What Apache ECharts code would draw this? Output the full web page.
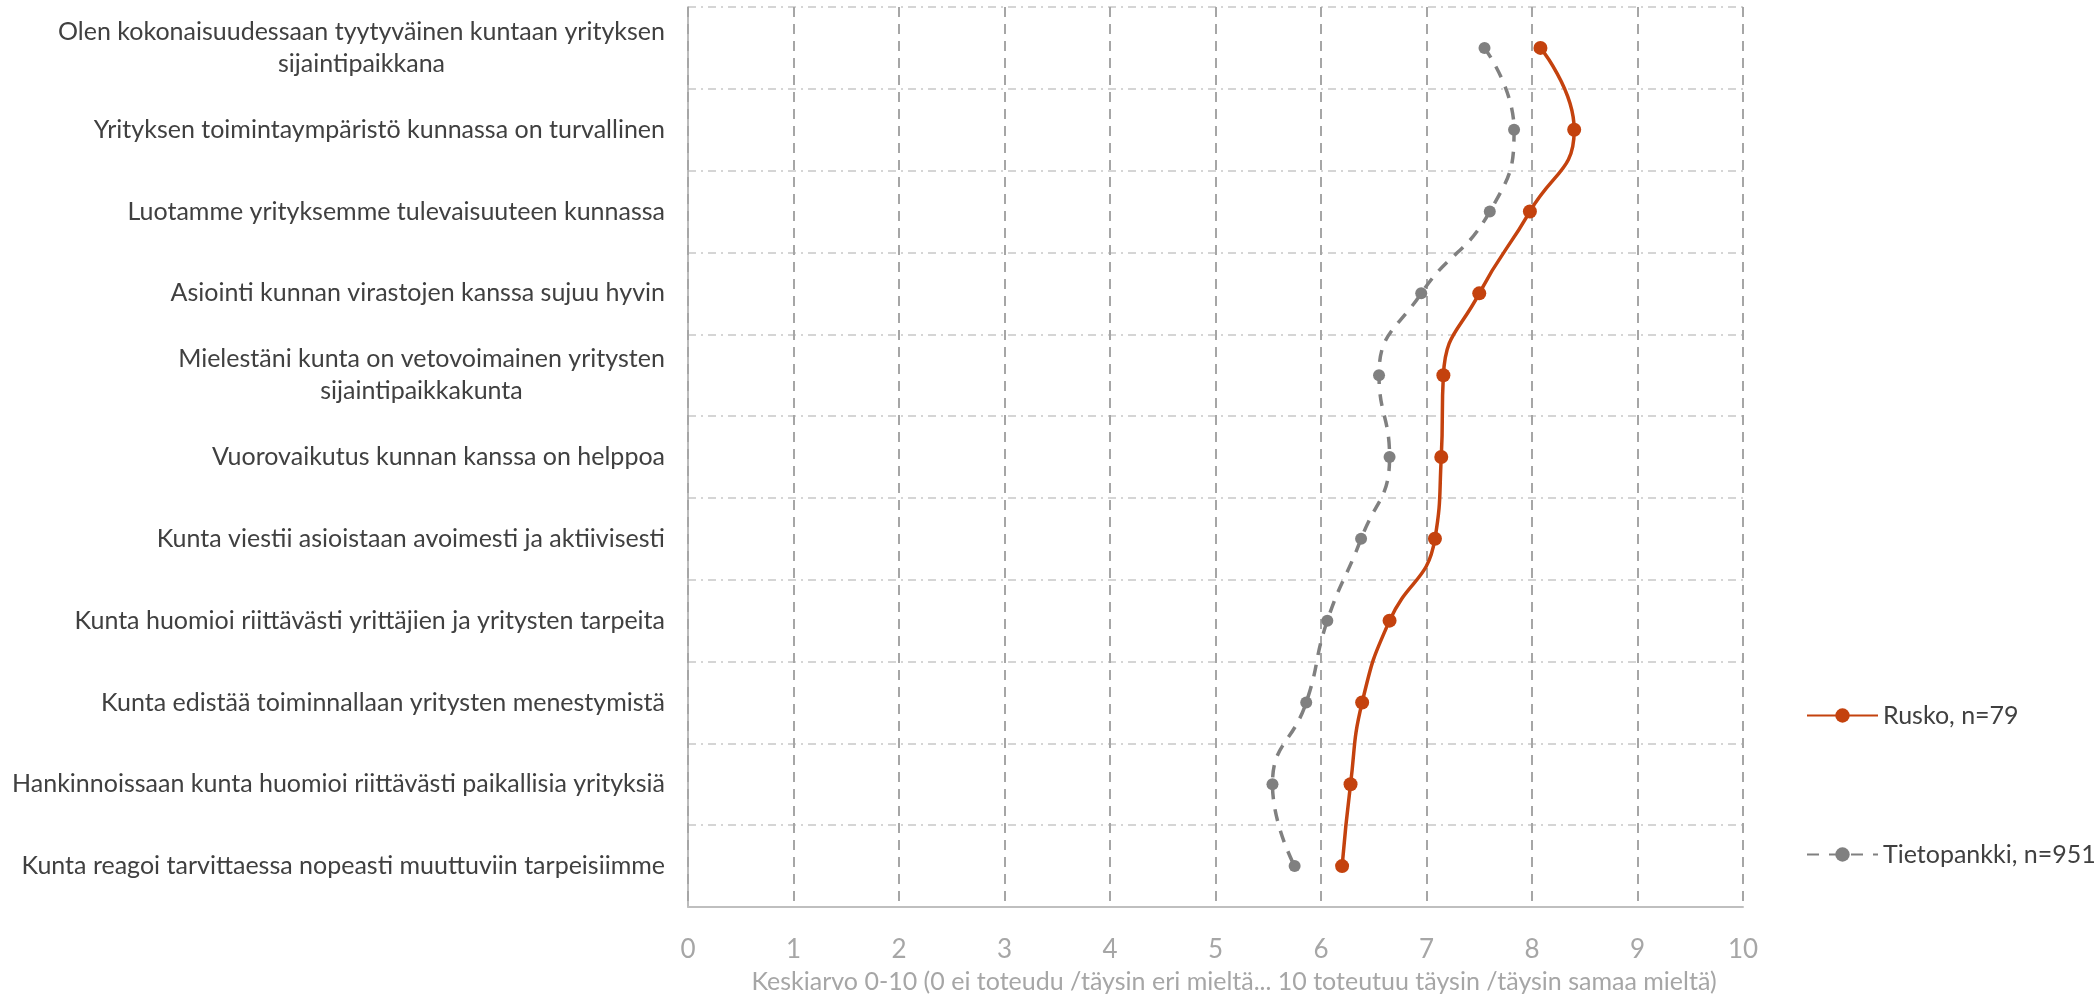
<!DOCTYPE html>
<html>
<head>
<meta charset="utf-8">
<script src="https://cdn.jsdelivr.net/npm/echarts@6/dist/echarts.min.js"></script>
<style>
html,body{margin:0;padding:0;background:#fff;}
#chart{width:2098px;height:999px;}
</style>
</head>
<body>
<div id="chart"></div>
<script>
const categories = [
  "Olen kokonaisuudessaan tyytyväinen kuntaan yrityksen\nsijaintipaikkana",
  "Yrityksen toimintaympäristö kunnassa on turvallinen",
  "Luotamme yrityksemme tulevaisuuteen kunnassa",
  "Asiointi kunnan virastojen kanssa sujuu hyvin",
  "Mielestäni kunta on vetovoimainen yritysten\nsijaintipaikkakunta",
  "Vuorovaikutus kunnan kanssa on helppoa",
  "Kunta viestii asioistaan avoimesti ja aktiivisesti",
  "Kunta huomioi riittävästi yrittäjien ja yritysten tarpeita",
  "Kunta edistää toiminnallaan yritysten menestymistä",
  "Hankinnoissaan kunta huomioi riittävästi paikallisia yrityksiä",
  "Kunta reagoi tarvittaessa nopeasti muuttuviin tarpeisiimme"
];
const ruskoName = "Rusko, n=79";
const ruskoValues = [8.08, 8.40, 7.98, 7.50, 7.16, 7.14, 7.08, 6.65, 6.39, 6.28, 6.20];
const tietoName = "Tietopankki, n=951";
const tietoValues = [7.55, 7.83, 7.60, 6.95, 6.55, 6.65, 6.38, 6.06, 5.86, 5.54, 5.75];
const xTicks = [0, 1, 2, 3, 4, 5, 6, 7, 8, 9, 10];
const xTitle = "Keskiarvo 0-10 (0 ei toteudu /täysin eri mieltä... 10 toteutuu täysin /täysin samaa mieltä)";

const FONT = "Lato";
const LABEL_SIZE = 25;

// measure first line width for centered multi-line labels
const cv = document.createElement('canvas');
const ctx = cv.getContext('2d');
ctx.font = LABEL_SIZE + 'px ' + FONT;
const rich = {};
const labelMap = {};
categories.forEach((c, i) => {
  const lines = c.split('\n');
  if (lines.length > 1) {
    const w = Math.ceil(Math.max(...lines.map(l => ctx.measureText(l).width)));
    rich['c' + i] = { width: w, align: 'center', fontSize: LABEL_SIZE, fontFamily: FONT, color: '#404040', lineHeight: 32 };
    labelMap[c] = lines.map(l => '{c' + i + '|' + l + '}').join('\n');
  } else {
    labelMap[c] = c;
  }
});

const chart = echarts.init(document.getElementById('chart'), null, { renderer: 'canvas' });
chart.setOption({
  backgroundColor: '#ffffff',
  animation: false,
  textStyle: { fontFamily: FONT },
  grid: { left: 688, right: 355, top: 7, bottom: 83, containLabel: false },
  legend: {
    orient: 'vertical',
    left: 1806,
    top: 703,
    padding: 0,
    itemWidth: 71,
    itemHeight: 18,
    itemGap: 114,
    textStyle: { fontSize: 25, color: '#404040', fontFamily: FONT },
    data: [ruskoName, tietoName]
  },
  xAxis: {
    type: 'value',
    min: 0, max: 10, interval: 1,
    name: xTitle,
    nameLocation: 'middle',
    nameGap: 62,
    nameTextStyle: { fontSize: 25, color: '#a6a6a6', fontFamily: FONT, padding: [0, 0, 0, 37] },
    axisLine: { show: true, lineStyle: { color: '#bfbfbf', width: 2 } },
    axisTick: { show: false },
    axisLabel: {
      fontSize: 26, color: '#a6a6a6', margin: 30, fontFamily: FONT,
      formatter: v => xTicks.includes(v) ? String(v) : ''
    },
    splitLine: { show: true, lineStyle: { color: '#a6a6a6', width: 2, type: [10, 7] } }
  },
  yAxis: {
    type: 'category',
    inverse: true,
    data: categories,
    boundaryGap: true,
    axisLine: { show: true, lineStyle: { color: '#a6a6a6', width: 1.5 } },
    axisTick: { show: false },
    axisLabel: {
      fontSize: LABEL_SIZE, color: '#404040', margin: 23, fontFamily: FONT,
      lineHeight: 32,
      formatter: v => labelMap[v],
      rich: rich
    },
    splitLine: { show: true, lineStyle: { color: '#c8c8c8', width: 1.5, type: [8, 5, 2, 5] } }
  },
  series: [
    {
      name: tietoName,
      type: 'line',
      smooth: 0.5,
      data: tietoValues.map((v, i) => [v, categories[i]]),
      symbol: 'circle',
      symbolSize: 12,
      itemStyle: { color: '#808080' },
      lineStyle: { color: '#808080', width: 3.5, type: [12, 10] },
      z: 2
    },
    {
      name: ruskoName,
      type: 'line',
      smooth: 0.5,
      data: ruskoValues.map((v, i) => [v, categories[i]]),
      symbol: 'circle',
      symbolSize: 14,
      itemStyle: { color: '#C4420E' },
      lineStyle: { color: '#C4420E', width: 3.5 },
      z: 3
    }
  ]
});
</script>
</body>
</html>
